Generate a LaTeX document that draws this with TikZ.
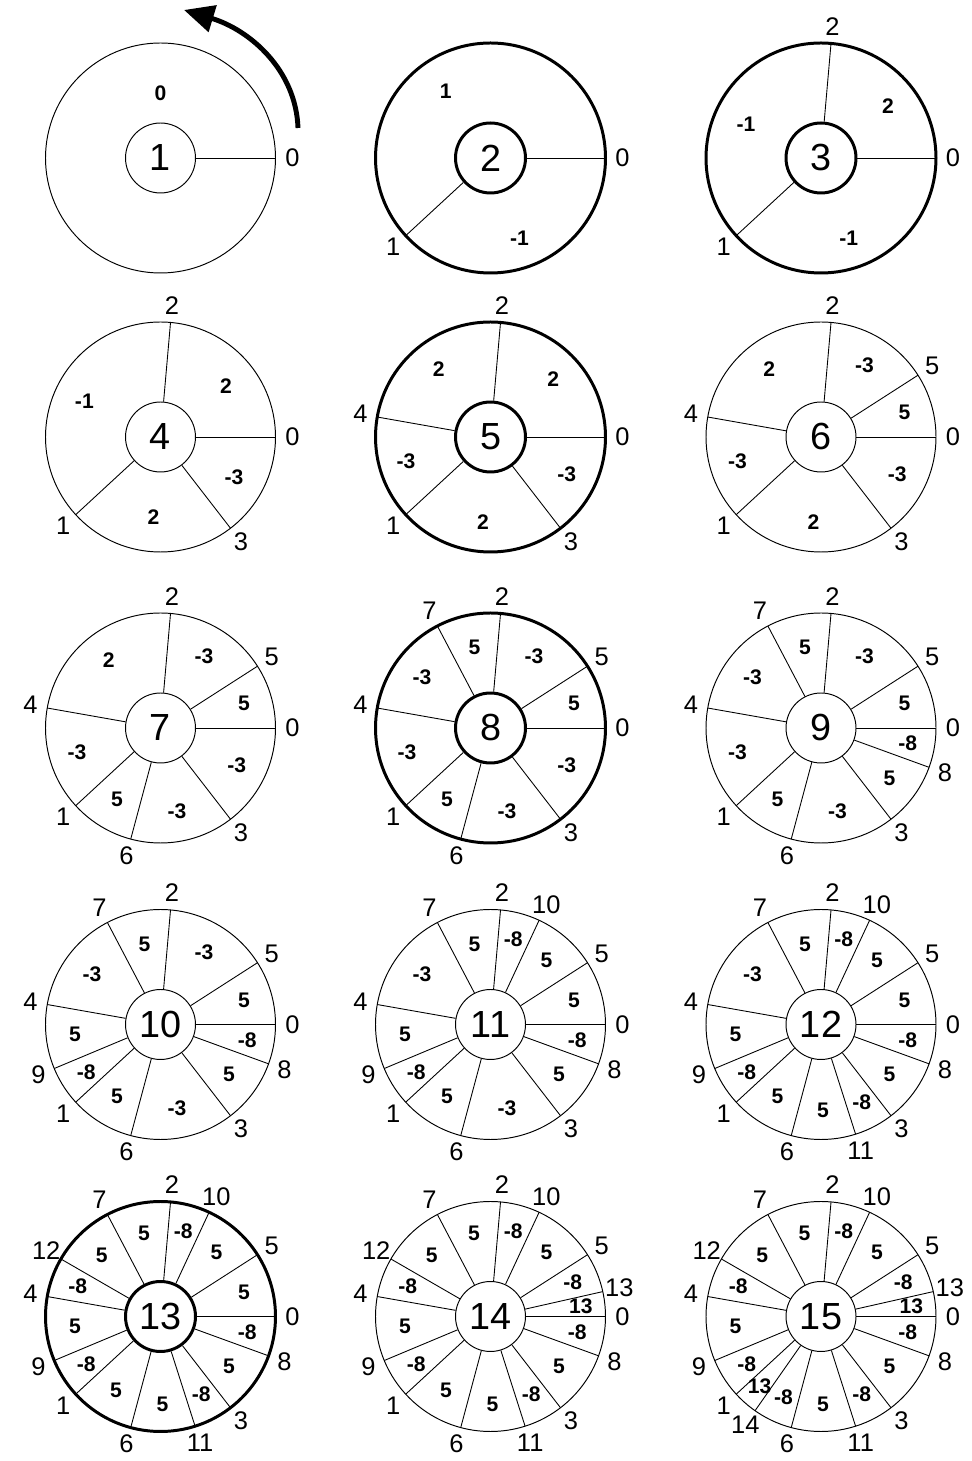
\documentclass[tikz,border=0pt]{standalone}
\usepackage{fontspec}
\setmainfont{Liberation Sans}
\usetikzlibrary{calc,arrows.meta}
\tikzset{
  hub/.style={circle,draw,minimum size=1.4cm,inner sep=0pt,font=\fontsize{21.5pt}{21.5pt}\selectfont},
  rim/.style={line width=0.55pt},
  fib/.style={line width=1.7pt},
  spoke/.style={line width=0.5pt},
  ptlab/.style={font=\fontsize{14.5pt}{14.5pt}\selectfont,inner sep=0pt},
  wlab/.style={font=\bfseries\fontsize{12pt}{12pt}\selectfont,inner sep=0pt},
  turnarrow/.style={line width=2.8pt,-{Triangle[length=0.6cm,width=0.54cm]}},
}
\def\ptangles{0/0,1/222.5,2/85,3/307.5,4/170,5/32.5,6/255,7/117.5,8/340,9/202.5,10/65,11/287.5,12/150,13/12.5,14/235}
\newcommand\wheel[4]{%
  \coordinate (c#1) at #2;
  \draw[#3] (c#1) circle[radius=115];
  \node[hub,#3] (h#1) at (c#1) {#1};
  \foreach \k/\pa in \ptangles {%
    \ifnum\k<#1\relax
      \draw[spoke] (h#1.\pa) -- ($(c#1)+(\pa:115)$);
      \node[ptlab] (p#1-\k) at ($(c#1)+(\pa:132)$) {\k};
    \fi
  }%
  \foreach \wa/\wr/\wt [count=\wi] in {#4} {%
    \node[wlab] (w#1-\wi) at ($(c#1)+(\wa:\wr)$) {\wt};
  }%
}
\begin{document}
\begin{tikzpicture}[x=0.02cm,y=0.02cm]
\path[use as bounding box] (0,0) rectangle (971,1461);
% row 1
\wheel{1}{(160.5,1303)}{rim}{90/65/0}
\wheel{2}{(490.5,1303)}{fib}{124/80/1, 290/85/-1}
\wheel{3}{(821,1303)}{fib}{38/85/2, 156/82/-1, 289/85/-1}
% row 2
\wheel{4}{(160.5,1024)}{rim}{38/83/2, 155/84/-1, 265/80/2, 331/84/-3}
\wheel{5}{(490.5,1024)}{fib}{42.5/85/2, 127.5/85/2, 196.25/88/-3, 265/85/2, 333.75/85/-3}
\wheel{6}{(821,1024)}{rim}{16.25/87/5, 58.75/84/-3, 127.5/85/2, 196.25/87/-3, 265/85/2, 333.75/85/-3}
% row 3
\wheel{7}{(160.5,733)}{rim}{16.25/87/5, 58.75/84/-3, 127.5/85/2, 196.25/87/-3, 238.75/84/5, 281.25/85/-3, 333.75/85/-3}
\wheel{8}{(490.5,733)}{fib}{16.25/87/5, 58.75/84/-3, 101.25/82/5, 143.75/85/-3, 196.25/87/-3, 238.75/84/5, 281.25/85/-3, 333.75/85/-3}
\wheel{9}{(821,733)}{rim}{16.25/87/5, 58.75/84/-3, 101.25/82/5, 143.75/85/-3, 196.25/87/-3, 238.75/84/5, 281.25/85/-3, 323.75/85/5, 350/88/-8}
% row 4
\wheel{10}{(160.5,436.5)}{rim}{16.25/87/5, 58.75/84/-3, 101.25/82/5, 143.75/85/-3, 186.25/86/5, 212.5/88/-8, 238.75/84/5, 281.25/85/-3, 323.75/85/5, 350/88/-8}
\wheel{11}{(490.5,436.5)}{rim}{16.25/87/5, 48.75/85/5, 75/88/-8, 101.25/82/5, 143.75/85/-3, 186.25/86/5, 212.5/88/-8, 238.75/84/5, 281.25/85/-3, 323.75/85/5, 350/88/-8}
\wheel{12}{(821,436.5)}{rim}{16.25/87/5, 48.75/85/5, 75/88/-8, 101.25/82/5, 143.75/85/-3, 186.25/86/5, 212.5/88/-8, 238.75/84/5, 271.25/86/5, 297.5/88/-8, 323.75/85/5, 350/88/-8}
% row 5
\wheel{13}{(160.5,144.5)}{fib}{16.25/87/5, 48.75/85/5, 75/88/-8, 101.25/85/5, 133.75/85/5, 160/88/-8, 186.25/86/5, 212.5/88/-8, 238.75/86/5, 271.25/88/5, 297.5/88/-8, 323.75/85/5, 350/88/-8}
\wheel{14}{(490.5,144.5)}{rim}{6.25/91/13, 22.5/89/-8, 48.75/85/5, 75/88/-8, 101.25/85/5, 133.75/85/5, 160/88/-8, 186.25/86/5, 212.5/88/-8, 238.75/86/5, 271.25/88/5, 297.5/88/-8, 323.75/85/5, 350/88/-8}
\wheel{15}{(821,144.5)}{rim}{6.25/91/13, 22.5/89/-8, 48.75/85/5, 75/88/-8, 101.25/85/5, 133.75/85/5, 160/88/-8, 186.25/86/5, 212.5/88/-8, 228.75/93/13, 245/89/-8, 271.25/88/5, 297.5/88/-8, 323.75/85/5, 350/88/-8}
% rotation arrow
\coordinate (arrS) at (298,1333);
\coordinate (arrE) at (184,1451);
\draw[turnarrow] (arrS) .. controls (296,1391) and (250,1431) .. (arrE);
\end{tikzpicture}
\end{document}
